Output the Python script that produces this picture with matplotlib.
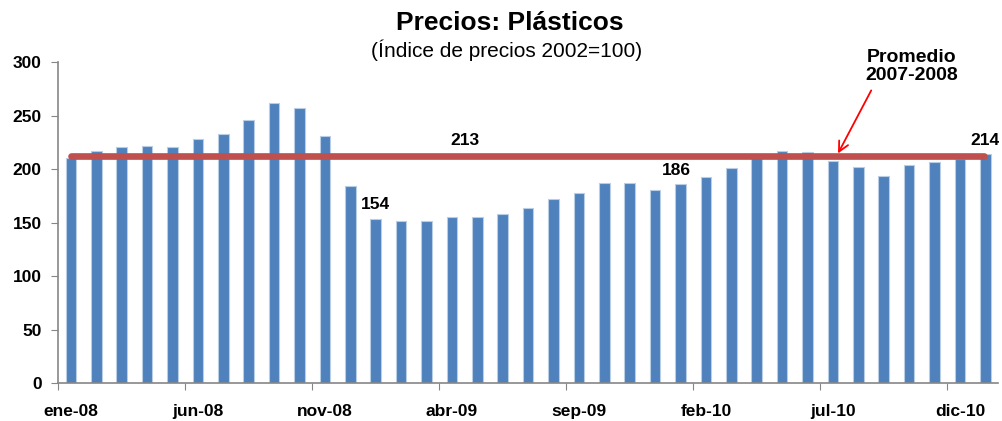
import matplotlib
matplotlib.use("Agg")
import matplotlib.pyplot as plt
import numpy as np

months = ["ene-08","feb-08","mar-08","abr-08","may-08","jun-08","jul-08","ago-08","sep-08","oct-08","nov-08","dic-08",
          "ene-09","feb-09","mar-09","abr-09","may-09","jun-09","jul-09","ago-09","sep-09","oct-09","nov-09","dic-09",
          "ene-10","feb-10","mar-10","abr-10","may-10","jun-10","jul-10","ago-10","sep-10","oct-10","nov-10","dic-10",
          "ene-11"]
values = [211, 217, 221, 222, 221, 228, 233, 246, 262, 257, 231, 184,
          154, 152, 152, 155, 155, 158, 164, 172, 178, 187, 187, 181,
          186, 193, 201, 211, 217, 216, 208, 202, 194, 204, 207, 210,
          214]
average = 213
labeled = {12: "154", 24: "186", 36: "214"}

plt.rcParams['font.family'] = ['Liberation Sans', 'DejaVu Sans']

fig = plt.figure(figsize=(10.03, 4.21), dpi=100)
ax = fig.add_axes([0.0581, 0.0895, 0.9369, 0.7626])
x = np.arange(len(values))
ax.bar(x, values, width=0.42, color="#4F81BD", edgecolor="#B9CDE5", linewidth=0.8, zorder=2)
ax.plot([0.0, 35.95], [average - 0.8, average - 0.8], color="#C0504D", linewidth=4.8, zorder=3, solid_capstyle='round')

ax.set_xlim(-0.5, len(values) - 0.5)
ax.set_ylim(0, 300)
ax.set_yticks(range(0, 301, 50))
ax.set_yticklabels([str(v) for v in range(0, 301, 50)], fontsize=12.5, fontweight='bold')
ax.set_xticks(np.arange(-0.5, len(values) - 1, 5))
ax.set_xticklabels([])
ax.set_xticks(np.arange(0, len(values), 5), minor=True)
ax.set_xticklabels([months[i] for i in range(0, len(values), 5)], minor=True, fontsize=12.5, fontweight='bold')
ax.tick_params(axis='x', which='minor', length=0, pad=15)
ax.tick_params(axis='x', which='major', length=5, color='#868686', direction='out')
ax.tick_params(axis='y', length=5, color='#868686', pad=7)
for s in ['top', 'right']:
    ax.spines[s].set_visible(False)
for s in ['left', 'bottom']:
    ax.spines[s].set_color('#868686')
    ax.spines[s].set_linewidth(1.2)

offsets = {12: 0.0, 24: -0.15, 36: 0.0}
for i, t in labeled.items():
    ax.text(i + offsets[i], values[i] + 6, t, ha='center', va='bottom', fontsize=12.5, fontweight='bold')
ax.text(15.5, average + 7, "213", ha='center', va='bottom', fontsize=12.5, fontweight='bold')

ax.annotate("", xy=(30.15, average - 0.5), xytext=(31.56, 276),
            arrowprops=dict(arrowstyle='->', color='red', lw=1.3, mutation_scale=18), annotation_clip=False)
ax.text(33.1, 280, "Promedio\n2007-2008", ha='center', va='bottom', fontsize=14, fontweight='bold', linespacing=1.05)

fig.text(0.508, 0.945, "Precios: Plásticos", ha='center', va='center', fontsize=19, fontweight='bold')
fig.text(0.505, 0.88, "(Índice de precios 2002=100)", ha='center', va='center', fontsize=15)

fig.savefig("out.png", dpi=100)
